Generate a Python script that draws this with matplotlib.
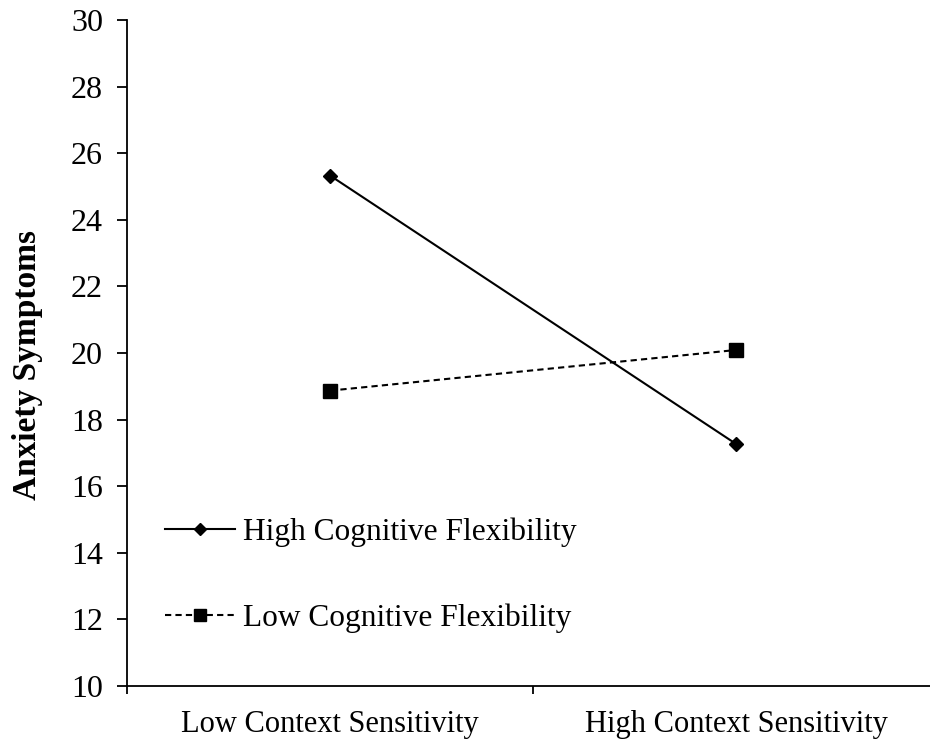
import matplotlib
matplotlib.use("Agg")
import matplotlib.pyplot as plt

# Simple slopes: anxiety symptoms by context sensitivity at two levels of flexibility
conditions = ["Low Context Sensitivity", "High Context Sensitivity"]
high_flex = [25.33, 17.27]
low_flex = [18.87, 20.09]
y_ticks = [10, 12, 14, 16, 18, 20, 22, 24, 26, 28, 30]

plt.rcParams["font.family"] = ["Liberation Serif", "DejaVu Serif"]

fig = plt.figure(figsize=(9.3, 7.43), dpi=100)
ax = fig.add_axes([127 / 930, 1 - 686 / 743, 812 / 930, 666 / 743])

xpos = [0.5, 1.5]
ax.plot(xpos, high_flex, color="black", lw=1.5, marker="D", ms=6.8,
        label="High Cognitive Flexibility")
ax.plot(xpos, low_flex, color="black", lw=1.5, ls=(0, (3, 2)), marker="s", ms=9.5,
        label="Low Cognitive Flexibility")

ax.set_xlim(0, 2)
ax.set_ylim(10, 30)
ax.set_yticks(y_ticks)
ax.set_xticks([0, 1, 2])
ax.set_xticklabels([])
ax.set_xticks(xpos, minor=True)
ax.set_xticklabels(conditions, minor=True)
ax.tick_params(axis="x", which="minor", length=0, pad=17, labelsize=22)
ax.tick_params(axis="x", which="major", length=6, width=1.3, direction="out")
ax.tick_params(axis="y", length=7.2, width=1.3, direction="out", labelsize=23, pad=10)

for side in ["top", "right"]:
    ax.spines[side].set_visible(False)
for side in ["left", "bottom"]:
    ax.spines[side].set_linewidth(1.3)

ax.set_ylabel("Anxiety Symptoms", fontsize=24, fontweight="bold")
ax.yaxis.set_label_coords(-0.103, 0.482)

ax.legend(loc="center left", bbox_to_anchor=((165 - 127) / 812, (686 - 575) / 666),
          frameon=False, fontsize=22.6, handlelength=2.23, handletextpad=0.25,
          labelspacing=1.8, borderpad=0, borderaxespad=0, markerscale=0.85)

fig.savefig("out.png", dpi=100)
